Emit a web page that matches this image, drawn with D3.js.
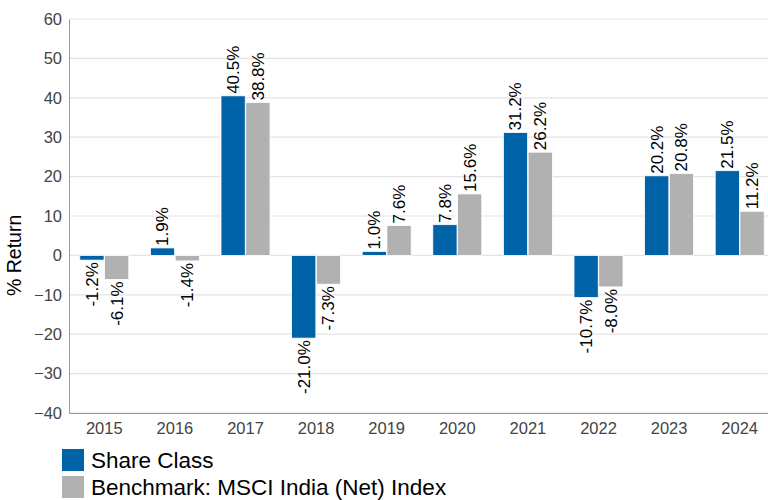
<!DOCTYPE html>
<html>
<head>
<meta charset="utf-8">
<script src="https://cdn.jsdelivr.net/npm/d3@7"></script>
<style>
  body { margin: 0; background: #fff; }
  svg { font-family: "Liberation Sans", Arial, sans-serif; }
</style>
</head>
<body>
<div id="chart"></div>
<script>
var years = ["2015", "2016", "2017", "2018", "2019", "2020", "2021", "2022", "2023", "2024"];
var shareClass = [-1.2, 1.9, 40.5, -21.0, 1.0, 7.8, 31.2, -10.7, 20.2, 21.5];
var benchmark = [-6.1, -1.4, 38.8, -7.3, 7.6, 15.6, 26.2, -8.0, 20.8, 11.2];
var yTicks = [-40, -30, -20, -10, 0, 10, 20, 30, 40, 50, 60];
var seriesNames = ["Share Class", "Benchmark: MSCI India (Net) Index"];
var colors = ["#0063a8", "#b1b1b1"];

var svgWidth = 768;
var svgHeight = 500;
var margin = { top: 19, right: -7, bottom: 87, left: 69 };
var width = svgWidth - margin.left - margin.right;
var height = svgHeight - margin.top - margin.bottom;

var svg = d3.select("#chart")
    .append("svg")
    .attr("width", svgWidth)
    .attr("height", svgHeight);

var chartGroup = svg.append("g")
    .attr("transform", `translate(${margin.left}, ${margin.top})`);

var xScale = d3.scaleBand()
    .domain(years)
    .range([0, width]);

var xSub = d3.scaleBand()
    .domain([0, 1])
    .range([xScale.bandwidth() / 2 - 24.5, xScale.bandwidth() / 2 + 24.5])
    .paddingInner(0.02);

var yScale = d3.scaleLinear()
    .domain([-40, 60])
    .range([height, 0]);

// gridlines
chartGroup.selectAll(".grid")
    .data(yTicks)
    .enter()
    .append("line")
    .attr("x1", 0)
    .attr("x2", svgWidth - margin.left)
    .attr("y1", d => yScale(d))
    .attr("y2", d => yScale(d))
    .attr("stroke", "#e4e4e4")
    .attr("stroke-width", 1.2);

// bars
var data = years.map((y, i) => ({ year: y, values: [shareClass[i], benchmark[i]] }));

var groups = chartGroup.selectAll(".year")
    .data(data)
    .enter()
    .append("g")
    .attr("transform", d => `translate(${xScale(d.year)}, 0)`);

groups.selectAll("rect")
    .data(d => d.values.map((v, k) => ({ v: v, k: k })))
    .enter()
    .append("rect")
    .attr("x", d => xSub(d.k))
    .attr("width", xSub.bandwidth())
    .attr("y", d => yScale(Math.max(0, d.v)))
    .attr("height", d => Math.abs(yScale(d.v) - yScale(0)))
    .attr("fill", d => colors[d.k])
    .attr("stroke", "#fff")
    .attr("stroke-width", 0.8);

groups.selectAll("text")
    .data(d => d.values.map((v, k) => ({ v: v, k: k })))
    .enter()
    .append("text")
    .attr("transform", d => {
        var x = xSub(d.k) + xSub.bandwidth() / 2;
        var y = d.v >= 0 ? yScale(d.v) - 2 : yScale(d.v) + 2;
        return `translate(${x}, ${y}) rotate(-90)`;
    })
    .attr("text-anchor", d => d.v >= 0 ? "start" : "end")
    .attr("dy", "0.35em")
    .attr("font-size", "17px")
    .attr("fill", "#000")
    .text(d => d.v.toFixed(1) + "%");

// axes
var leftAxis = d3.axisLeft(yScale).tickValues(yTicks).tickSize(0).tickPadding(7);
var bottomAxis = d3.axisBottom(xScale).tickSize(0).tickPadding(9);

var yAxisG = chartGroup.append("g").call(leftAxis);
yAxisG.select(".domain").attr("stroke", "#999");
yAxisG.selectAll("text").attr("font-size", "16.5px").attr("fill", "#444");

var xAxisG = chartGroup.append("g")
    .attr("transform", `translate(0, ${height})`)
    .call(bottomAxis);
xAxisG.select(".domain").attr("stroke", "#999");
xAxisG.selectAll("text").attr("font-size", "16.5px").attr("fill", "#444");

chartGroup.append("text")
    .attr("transform", "rotate(-90)")
    .attr("x", 0 - yScale(0))
    .attr("y", 0 - margin.left + 21)
    .attr("text-anchor", "middle")
    .attr("font-size", "19.5px")
    .attr("fill", "#000")
    .text("% Return");

// legend
var legend = svg.selectAll(".legend")
    .data(seriesNames)
    .enter()
    .append("g")
    .attr("transform", (d, i) => `translate(62, ${449 + i * 27})`);

legend.append("rect")
    .attr("width", 22)
    .attr("height", 22)
    .attr("fill", (d, i) => colors[i]);

legend.append("text")
    .attr("x", 29)
    .attr("y", 11)
    .attr("dy", "0.35em")
    .attr("font-size", "22.5px")
    .attr("fill", "#000")
    .text(d => d);
</script>
</body>
</html>
